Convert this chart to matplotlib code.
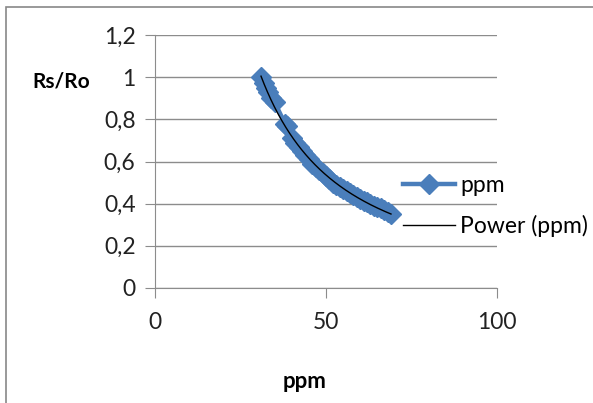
import numpy as np
import matplotlib
matplotlib.use("Agg")
import matplotlib.pyplot as plt
from matplotlib.patches import Rectangle
from matplotlib.lines import Line2D

plt.rcParams['font.family'] = ['Lato', 'DejaVu Sans']

ppm = [31, 32, 32.5, 33, 34, 35, 38, 38.5, 40, 41, 42, 43, 44, 45, 46, 47, 48, 49, 50,
       51, 52, 53, 54, 55, 56, 57, 58, 59, 60, 61, 62, 63, 64, 65, 66, 67, 68, 69]
rs_ro = [1.0, 0.97, 0.95, 0.93, 0.90, 0.88, 0.78, 0.77, 0.71, 0.69, 0.67, 0.65, 0.63, 0.61,
         0.59, 0.575, 0.56, 0.545, 0.53, 0.515, 0.50, 0.49, 0.48, 0.47, 0.46, 0.45, 0.44,
         0.43, 0.42, 0.415, 0.41, 0.40, 0.39, 0.385, 0.38, 0.37, 0.36, 0.35]
xticks = [0, 50, 100]
yticks = [0, 0.2, 0.4, 0.6, 0.8, 1.0, 1.2]
ytick_labels = ['0', '0,2', '0,4', '0,6', '0,8', '1', '1,2']

W, H = 593, 403
fig = plt.figure(figsize=(W / 100, H / 100), dpi=100)
fig.patch.set_facecolor('white')
fig.patches.append(Rectangle((6 / W, -0.1), 1.2, (H - 7) / H + 0.1, transform=fig.transFigure,
                             fill=False, edgecolor='#888888', linewidth=1.2))

ax = fig.add_axes([155 / W, (H - 288) / H, (497 - 155) / W, (288 - 35) / H])
blue = '#4A7EBB'
ax.plot(ppm, rs_ro, color=blue, linewidth=3.2, marker='D', markersize=10,
        markerfacecolor=blue, markeredgecolor=blue, zorder=3)

# power trendline fit
b, ln_a = np.polyfit(np.log(ppm), np.log(rs_ro), 1)
xf = np.linspace(min(ppm), max(ppm), 200)
ax.plot(xf, np.exp(ln_a) * xf ** b, color='black', linewidth=1, zorder=4)

ax.set_xlim(0, 100)
ax.set_ylim(0, 1.2)
ax.set_xticks(xticks)
ax.set_xticklabels([str(t) for t in xticks])
ax.set_yticks(yticks)
ax.set_yticklabels(ytick_labels)
ax.grid(axis='y', color='#8c8c8c', linewidth=1)
ax.set_axisbelow(True)
for s in ['top', 'right']:
    ax.spines[s].set_visible(False)
for s in ['left', 'bottom']:
    ax.spines[s].set_color('#8c8c8c')
ax.tick_params(axis='y', length=7, color='#8c8c8c', labelsize=16.5, pad=7, labelcolor='#222222')
ax.tick_params(axis='x', length=7, color='#8c8c8c', labelsize=16.5, pad=10, labelcolor='#222222')

fig.text(61 / W, 1 - 81 / H, 'Rs/Ro', ha='center', va='center', fontsize=15, fontweight='bold')
fig.text(305 / W, 1 - 382 / H, 'ppm', ha='center', va='center', fontsize=16, fontweight='bold')

handles = [Line2D([], [], color=blue, linewidth=3.2, marker='D', markersize=10),
           Line2D([], [], color='black', linewidth=1)]
fig.legend(handles, ['ppm', 'Power (ppm)'], loc='center left',
           bbox_to_anchor=(403 / W, 1 - 206 / H), frameon=False, fontsize=16.5,
           handlelength=2.27, handletextpad=0.22, labelspacing=0.85,
           borderpad=0, borderaxespad=0)

fig.savefig('out.png', dpi=100)
